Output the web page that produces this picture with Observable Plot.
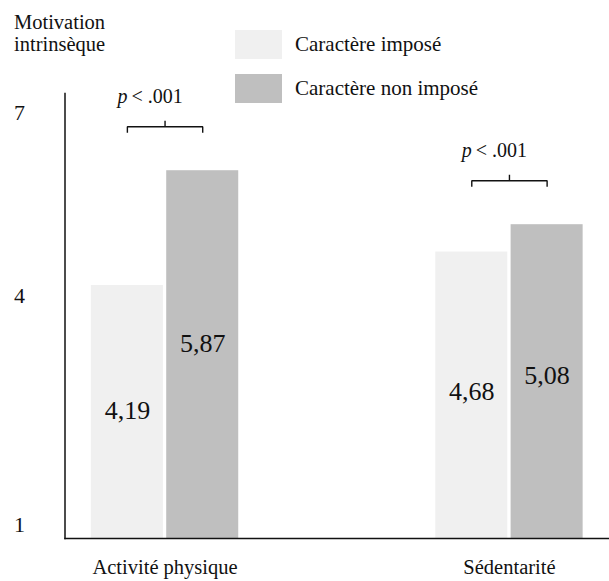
<!DOCTYPE html>
<html>
<head>
<meta charset="utf-8">
<script src="https://cdn.jsdelivr.net/npm/d3@7"></script>
<script src="https://cdn.jsdelivr.net/npm/@observablehq/plot@0.6"></script>
<style>
  html, body { margin: 0; padding: 0; background: #fff; }
  #wrap { position: relative; width: 609px; height: 581px; font-family: 'Liberation Serif', serif; color: #111; }
  #ytitle { position: absolute; left: 14px; top: 11px; font-size: 20.5px; line-height: 22px; font-family: 'Liberation Serif', serif; }
  #legend { position: absolute; left: 235px; top: 30px; font-size: 21px; font-family: 'Liberation Serif', serif; }
  .row { display: flex; align-items: center; height: 29px; margin-bottom: 15px; }
  .sw { width: 47px; height: 29px; margin-right: 13px; }
  svg { display: block; }
  svg text { font-family: 'Liberation Serif', serif; }
</style>
</head>
<body>
<div id="wrap">
  <div id="chart"></div>
  <div id="ytitle">Motivation<br>intrinsèque</div>
  <div id="legend"></div>
</div>
<script>
const categories = ["Activité physique", "Sédentarité"];
const series = ["Caractère imposé", "Caractère non imposé"];
const imposed = [4.19, 4.68];
const notImposed = [5.87, 5.08];
const yTicks = [1, 4, 7];
const pValues = [".001", ".001"];
const colors = ["#f0f0f0", "#bfbfbf"];

const FONT = "'Liberation Serif', serif";
const data = categories.flatMap((c, i) => [
  {category: c, series: series[0], value: imposed[i]},
  {category: c, series: series[1], value: notImposed[i]}
]);
const brackets = categories.map((c, i) => ({
  category: c, a: series[0], b: series[1],
  top: Math.max(imposed[i], notImposed[i]), p: pValues[i]
}));
const fr = d3.formatLocale({decimal: ",", thousands: " ", grouping: [3], currency: ["", " €"]}).format(".2f");

function bracketCurve(context) {
  let pts = [];
  return {
    areaStart() {}, areaEnd() {},
    lineStart() { pts = []; },
    point(x, y) { pts.push([+x, +y]); },
    lineEnd() {
      const [x0, y0] = pts[0], [x1, y1] = pts[pts.length - 1];
      const t = 6;
      context.moveTo(x0, y0 + t); context.lineTo(x0, y0);
      context.lineTo(x1, y1); context.lineTo(x1, y1 + t);
      const mx = (x0 + x1) / 2, my = (y0 + y1) / 2;
      context.moveTo(mx, my); context.lineTo(mx, my - t);
    }
  };
}

const tickOpts = {tickSize: 0, tickPadding: 40, fontSize: 22, tickFormat: d => String(d), fontFamily: FONT, fill: "#111"};

const chart = Plot.plot({
  width: 609,
  height: 581,
  marginLeft: 64.5,
  marginRight: 0,
  marginTop: 93,
  marginBottom: 43,
  style: {fontFamily: FONT, fontSize: "20px", color: "#111", background: "transparent"},
  fx: {domain: categories, paddingInner: 0.419, paddingOuter: 0, round: false},
  x: {domain: series, paddingInner: 0.044, paddingOuter: 0.35, axis: null, round: false},
  y: {type: "linear", domain: yTicks, range: [538, 298, 93], axis: null},
  color: {domain: series, range: colors},
  marks: [
    Plot.barY(data, {fx: "category", x: "series", y1: yTicks[0], y2: "value", fill: "series"}),
    Plot.text(data, {fx: "category", x: "series", y: d => (yTicks[0] + d.value) / 2, text: d => fr(d.value), fontSize: 26, fontFamily: FONT, fill: "#111"}),
    Plot.link(brackets, {fx: "category", x1: "a", x2: "b", y1: "top", y2: "top", dy: -44, curve: bracketCurve, stroke: "#111", strokeWidth: 1.4}),
    Plot.text(brackets, {fx: "category", x: "a", y: "top", text: () => "p", fontStyle: "italic", textAnchor: "start", dx: -10, dy: -74, fontSize: 20, fontFamily: FONT, fill: "#111"}),
    Plot.text(brackets, {fx: "category", x: "a", y: "top", text: d => "< " + d.p, textAnchor: "start", dx: 4, dy: -74, fontSize: 20, fontFamily: FONT, fill: "#111"}),
    Plot.axisY([yTicks[2]], {...tickOpts, dy: 19}),
    Plot.axisY([yTicks[1]], {...tickOpts, dy: -3}),
    Plot.axisY([yTicks[0]], {...tickOpts, dy: -14}),
    Plot.axisFx({anchor: "bottom", tickSize: 0, tickPadding: 21, fontSize: 20.5, label: null, fontFamily: FONT, fill: "#111"}),
    Plot.frame({facet: "super", anchor: "left", stroke: "#111", strokeWidth: 1.5}),
    Plot.frame({facet: "super", anchor: "bottom", stroke: "#111", strokeWidth: 1.5})
  ]
});
document.getElementById("chart").appendChild(chart);

const legend = d3.select("#legend");
series.forEach((s, i) => {
  const row = legend.append("div").attr("class", "row");
  row.append("div").attr("class", "sw").style("background", colors[i]);
  row.append("span").text(s);
});
</script>
</body>
</html>
